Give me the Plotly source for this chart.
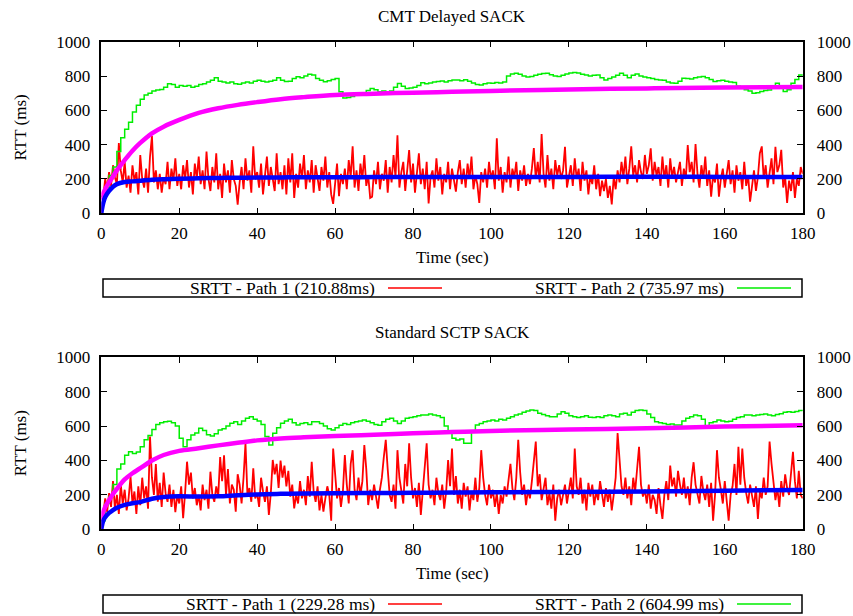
import plotly.graph_objects as go

W, H = 853, 616
FONT = "Liberation Serif"

# ---------------- data: CMT Delayed SACK (top) ----------------
top_title = "CMT Delayed SACK"
top_leg1 = "SRTT - Path 1 (210.88ms)"
top_leg2 = "SRTT - Path 2 (735.97 ms)"

# red: sampled every 0.5 s, t = 0 .. 180
top_red = [
    0, 110, 200, 140, 240, 160, 280, 210, 170, 410, 250, 180, 300, 150, 220, 120, 280, 190, 240, 110,
    340, 200, 150, 260, 120, 330, 450, 180, 250, 140, 230, 120, 210, 170, 300, 140, 260, 190, 320, 160,
    230, 140, 280, 200, 310, 150, 240, 110, 290, 200, 330, 170, 250, 140, 360, 200, 130, 270, 180, 350,
    140, 230, 90, 290, 180, 250, 120, 310, 200, 160, 50, 180, 270, 140, 320, 190, 250, 120, 390, 200,
    240, 150, 290, 110, 210, 330, 160, 270, 200, 130, 350, 170, 240, 140, 280, 110, 320, 180, 350, 90,
    230, 150, 290, 200, 340, 140, 250, 180, 310, 120, 280, 200, 130, 270, 190, 330, 150, 240, 110, 55,
    180, 290, 100, 230, 170, 260, 140, 310, 210, 390, 150, 250, 130, 290, 200, 340, 160, 220, 90, 97,
    250, 170, 300, 140, 230, 190, 310, 120, 270, 180, 340, 210, 455, 150, 240, 300, 130, 260, 369, 180,
    290, 120, 230, 350, 170, 260, 140, 300, 58, 210, 250, 150, 320, 190, 270, 110, 230, 180, 300, 140,
    260, 190, 126, 240, 310, 170, 260, 150, 290, 200, 330, 140, 220, 170, 60, 240, 180, 260, 150, 300,
    200, 250, 140, 437, 190, 270, 120, 240, 180, 330, 150, 260, 210, 300, 130, 250, 190, 280, 160, 230,
    170, 260, 380, 200, 300, 180, 462, 230, 150, 340, 190, 260, 140, 310, 220, 280, 200, 250, 388, 150,
    230, 280, 160, 320, 200, 260, 130, 300, 190, 250, 110, 220, 170, 280, 140, 230, 100, 190, 130, 200,
    90, 160, 52, 210, 140, 250, 180, 300, 210, 330, 170, 260, 390, 220, 280, 180, 310, 240, 200, 340,
    230, 280, 379, 190, 300, 220, 270, 160, 330, 200, 280, 150, 320, 210, 270, 180, 240, 300, 160, 260,
    200, 398, 240, 300, 180, 404, 230, 150, 280, 200, 330, 160, 250, 97, 220, 180, 290, 97, 200, 260,
    150, 230, 310, 170, 250, 120, 280, 190, 240, 140, 300, 160, 220, 68, 180, 250, 130, 210, 350, 390,
    200, 280, 150, 230, 320, 170, 388, 240, 280, 370, 150, 210, 60, 190, 130, 240, 90, 200, 160, 270,
    230,
]

# green: sampled every 1 s, t = 0 .. 180 (stair-step)
top_green = [
    100, 150, 220, 270, 360, 440, 490, 530, 590, 630,
    665, 690, 700, 712, 718, 722, 735, 755, 750, 735,
    745, 740, 745, 735, 740, 750, 755, 765, 775, 790,
    770, 765, 760, 765, 755, 752, 760, 765, 760, 770,
    775, 770, 765, 770, 775, 790, 775, 768, 770, 785,
    796, 790, 800, 810, 806, 786, 775, 767, 772, 780,
    785, 709, 672, 675, 680, 690, 695, 700, 715, 728,
    720, 709, 712, 708, 712, 735, 757, 740, 728, 730,
    735, 745, 761, 755, 760, 765, 768, 771, 765, 772,
    777, 777, 772, 778, 770, 760, 750, 748, 755, 760,
    758, 762, 760, 765, 800, 812, 816, 810, 800, 795,
    797, 805, 810, 815, 816, 808, 800, 797, 805, 812,
    818, 820, 818, 810, 806, 800, 805, 806, 790, 777,
    785, 795, 805, 816, 805, 790, 805, 812, 800, 795,
    790, 785, 780, 777, 775, 765, 760, 758, 770, 787,
    785, 782, 790, 795, 797, 790, 780, 768, 772, 775,
    770, 765, 762, 740, 729, 720, 712, 700, 702, 710,
    715, 719, 740, 758, 735, 710, 720, 758, 780, 806,
    810,
]

# smooth curves
smooth_t = [0, 0.5, 1, 2, 3, 4, 6, 8, 10, 13, 16, 20, 25, 30, 35, 40, 46, 52, 60, 70, 80, 90, 100, 120, 140, 160, 180]
top_magenta = [80, 115, 140, 180, 215, 250, 310, 365, 410, 466, 505, 544, 585, 612, 632, 648, 665, 677, 690, 697, 703, 708, 713, 722, 728, 733, 736]
top_blue = [0, 60, 95, 130, 155, 170, 182, 186, 190, 195, 198, 201, 204, 206, 207, 208, 209, 210, 210, 211, 211, 212, 212, 212, 213, 212, 211]

# ---------------- data: Standard SCTP SACK (bottom) ----------------
bot_title = "Standard SCTP SACK"
bot_leg1 = "SRTT - Path 1 (229.28 ms)"
bot_leg2 = "SRTT - Path 2 (604.99 ms)"

bot_red = [
    0, 90, 180, 100, 210, 130, 280, 120, 200, 90, 260, 150, 230, 110, 180, 306, 150, 220, 90, 250,
    140, 300, 180, 250, 120, 540, 300, 200, 380, 160, 270, 130, 330, 210, 160, 260, 130, 230, 100, 200,
    150, 250, 64, 210, 393, 260, 330, 180, 240, 140, 200, 110, 260, 170, 230, 120, 335, 200, 160, 250,
    190, 420, 280, 430, 200, 350, 150, 260, 230, 103, 320, 260, 150, 300, 500, 200, 240, 160, 355, 180,
    210, 130, 300, 220, 160, 250, 83, 210, 403, 320, 380, 240, 400, 300, 370, 250, 340, 190, 260, 122,
    200, 150, 280, 180, 230, 140, 310, 190, 393, 220, 160, 250, 110, 200, 103, 180, 250, 200, 50, 470,
    300, 180, 240, 130, 220, 432, 260, 150, 380, 460, 230, 170, 300, 200, 280, 490, 350, 141, 230, 170,
    260, 190, 120, 230, 300, 420, 520, 350, 200, 160, 260, 120, 460, 300, 220, 150, 380, 250, 500, 300,
    180, 240, 130, 270, 83, 220, 320, 500, 260, 180, 230, 140, 300, 210, 170, 260, 120, 220, 403, 250,
    470, 200, 310, 150, 230, 120, 270, 190, 250, 110, 220, 170, 300, 160, 240, 460, 300, 200, 140, 260,
    180, 230, 130, 210, 90, 200, 150, 250, 190, 300, 380, 240, 170, 300, 520, 330, 200, 260, 140, 230,
    180, 280, 400, 510, 250, 320, 170, 230, 300, 140, 210, 120, 260, 50, 180, 230, 140, 200, 260, 150,
    220, 300, 180, 470, 250, 200, 300, 150, 230, 110, 270, 190, 260, 140, 220, 170, 280, 200, 130, 240,
    160, 230, 110, 200, 300, 560, 380, 250, 200, 300, 180, 250, 140, 300, 220, 330, 480, 260, 190, 230,
    150, 260, 120, 200, 170, 90, 240, 140, 60, 200, 280, 170, 370, 250, 300, 190, 340, 260, 200, 300,
    180, 250, 140, 300, 390, 260, 200, 150, 310, 220, 170, 260, 130, 270, 50, 200, 460, 300, 230, 150,
    280, 140, 50, 200, 250, 380, 200, 480, 260, 470, 300, 210, 150, 260, 200, 130, 250, 60, 220, 180,
    300, 200, 250, 510, 380, 260, 170, 240, 130, 280, 190, 320, 240, 200, 350, 450, 280, 180, 340, 200,
    180,
]

bot_green = [
    50, 150, 190, 260, 350, 380, 430, 451, 440, 450,
    480, 520, 545, 580, 610, 620, 625, 628, 620, 600,
    530, 480, 520, 548, 560, 587, 575, 550, 542, 555,
    577, 585, 600, 616, 625, 610, 630, 645, 655, 640,
    630, 610, 540, 490, 558, 590, 616, 630, 640, 620,
    606, 615, 620, 610, 625, 625, 615, 600, 585, 577,
    590, 605, 615, 610, 620, 625, 630, 635, 628, 620,
    610, 605, 625, 640, 645, 630, 615, 630, 645, 650,
    655, 660, 664, 665, 670, 665, 660, 650, 600, 558,
    530, 519, 525, 500, 500, 570, 606, 615, 625, 630,
    635, 630, 640, 635, 645, 655, 664, 670, 680, 688,
    694, 690, 675, 668, 660, 655, 655, 670, 684, 675,
    660, 655, 650, 655, 660, 652, 650, 655, 650, 660,
    665, 660, 655, 670, 675, 665, 680, 690, 694, 690,
    670, 650, 626, 620, 615, 610, 612, 606, 606, 630,
    645, 655, 664, 660, 640, 597, 620, 625, 635, 630,
    625, 628, 640, 650, 655, 664, 665, 660, 665, 668,
    670, 664, 660, 668, 672, 680, 684, 680, 685, 690,
    688,
]

bot_magenta = [50, 100, 130, 170, 205, 235, 290, 326, 355, 400, 432, 456, 471, 488, 503, 517, 528, 535, 542, 550, 558, 565, 572, 580, 588, 597, 605]
bot_blue = [0, 50, 70, 95, 112, 125, 142, 152, 158, 178, 188, 192, 190, 192, 198, 203, 206, 208, 210, 211, 212, 214, 215, 217, 220, 224, 229]

x_ticks = [0, 20, 40, 60, 80, 100, 120, 140, 160, 180]
y_ticks = [0, 200, 400, 600, 800, 1000]

red_t = [i * 0.5 for i in range(len(top_red))]
green_t = list(range(len(top_green)))

RED, GREEN, MAGENTA, BLUE = "#ff0000", "#00ee00", "#ff00ff", "#0000ff"

fig = go.Figure()

def add_panel(red, green, magenta, blue, xa, ya, ya_over, name1, name2):
    fig.add_trace(go.Scatter(x=red_t, y=red, mode="lines", line=dict(color=RED, width=1.8),
                             xaxis=xa, yaxis=ya, name=name1, showlegend=False))
    fig.add_trace(go.Scatter(x=green_t, y=green, mode="lines", line=dict(color=GREEN, width=1.5, shape="hv"),
                             xaxis=xa, yaxis=ya, name=name2, showlegend=False))
    fig.add_trace(go.Scatter(x=smooth_t, y=magenta, mode="lines",
                             line=dict(color=MAGENTA, width=4.5, shape="spline", smoothing=1.0),
                             xaxis=xa, yaxis=ya_over, showlegend=False))
    fig.add_trace(go.Scatter(x=smooth_t, y=blue, mode="lines",
                             line=dict(color=BLUE, width=4.5, shape="spline", smoothing=1.0),
                             xaxis=xa, yaxis=ya_over, showlegend=False))

add_panel(top_red, top_green, top_magenta, top_blue, "x", "y", "y3", top_leg1, top_leg2)
add_panel(bot_red, bot_green, bot_magenta, bot_blue, "x2", "y2", "y4", bot_leg1, bot_leg2)

def px(x):
    return x / W

def py(y):
    return 1 - y / H

XD = [px(101.3), px(802.7)]
TOPD = [py(213.3), py(41.7)]
BOTD = [py(529.3), py(357.3)]

tickfont = dict(family=FONT, size=17, color="black")
xcommon = dict(range=[0, 180], tickvals=x_ticks, ticks="inside", ticklen=6, tickwidth=1,
               tickcolor="black", showline=True, linecolor="black", linewidth=1.5, mirror="ticks",
               showgrid=False, zeroline=False, tickfont=tickfont, ticklabelstandoff=4, domain=XD,
               automargin=False)
ycommon = dict(range=[0, 1000], tickvals=y_ticks, ticks="inside", ticklen=6, tickwidth=1,
               tickcolor="black", showline=True, linecolor="black", linewidth=1.5, mirror="ticks",
               showgrid=False, zeroline=False, tickfont=tickfont, ticklabelstandoff=6,
               automargin=False)
yover = dict(range=[0, 1000], tickvals=y_ticks, ticks="", showline=False, showgrid=False,
             zeroline=False, tickfont=tickfont, side="right", ticklabelstandoff=13,
             automargin=False)

fig.update_layout(
    width=W, height=H,
    margin=dict(l=0, r=0, t=0, b=0, autoexpand=False),
    paper_bgcolor="white", plot_bgcolor="white",
    font=dict(family=FONT, size=17, color="black"),
    showlegend=False,
    xaxis=dict(anchor="y", **xcommon),
    xaxis2=dict(anchor="y2", **xcommon),
    yaxis=dict(anchor="x", domain=TOPD, **ycommon),
    yaxis2=dict(anchor="x2", domain=BOTD, **ycommon),
    yaxis3=dict(anchor="x", overlaying="y", **yover),
    yaxis4=dict(anchor="x2", overlaying="y2", **yover),
)

annotations = []
shapes = []

def text(x, y, s, xanchor="center", angle=0, size=17):
    annotations.append(dict(x=px(x), y=py(y), xref="paper", yref="paper", text=s, showarrow=False,
                            xanchor=xanchor, yanchor="middle", textangle=angle,
                            font=dict(family=FONT, size=size, color="black")))

for (title_y, title, xlab_y, leg_top, leg1, leg2, mid) in [
    (16, top_title, 257.5, 279, top_leg1, top_leg2, 127.5),
    (332, bot_title, 573.5, 595, bot_leg1, bot_leg2, 443.3),
]:
    text(452, title_y, title)
    text(452, xlab_y, "Time (sec)")
    text(20, mid, "RTT (ms)", angle=-90)
    leg_bot = leg_top + 18
    cy = (leg_top + leg_bot) / 2
    shapes.append(dict(type="rect", xref="paper", yref="paper", x0=px(103), x1=px(802),
                       y0=py(leg_bot), y1=py(leg_top), line=dict(color="black", width=1.5)))
    text(377, cy, leg1, xanchor="right", size=17.5)
    shapes.append(dict(type="line", xref="paper", yref="paper", x0=px(388), x1=px(442),
                       y0=py(cy), y1=py(cy), line=dict(color=RED, width=1.6)))
    text(726, cy, leg2, xanchor="right", size=17.5)
    shapes.append(dict(type="line", xref="paper", yref="paper", x0=px(737), x1=px(791),
                       y0=py(cy), y1=py(cy), line=dict(color=GREEN, width=1.6)))

fig.update_layout(annotations=annotations, shapes=shapes)
fig.write_html("out.html")
